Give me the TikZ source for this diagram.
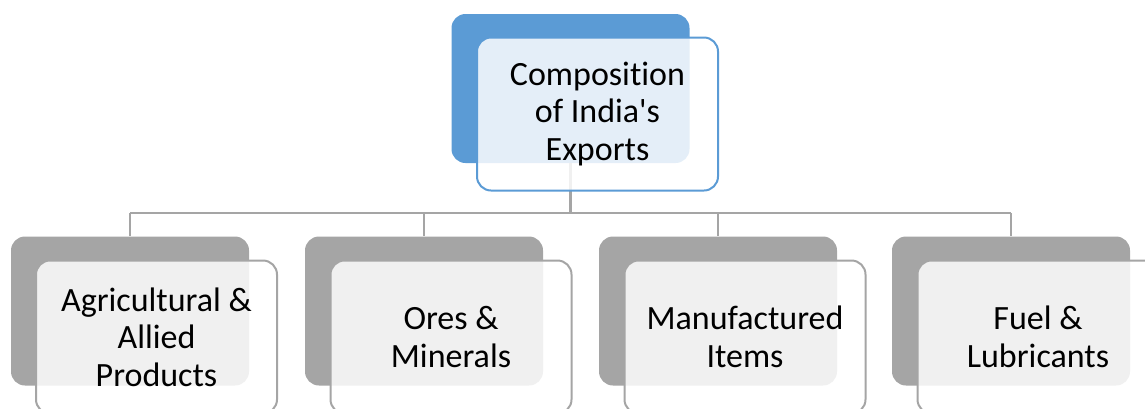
\documentclass[tikz,border=0pt]{standalone}
\usepackage{fontspec}
\setmainfont{Carlito}[Ligatures={NoCommon}]
\usetikzlibrary{positioning}
\definecolor{topblue}{HTML}{5B9BD5}
\definecolor{leafgray}{HTML}{A5A5A5}

\begin{document}
\begin{tikzpicture}[x=1pt,y=-1pt,
  backbox/.style={minimum width=238pt,minimum height=149pt,rounded corners=14pt,inner sep=0pt},
  frontbox/.style={minimum width=241pt,minimum height=153pt,rounded corners=14pt,inner sep=0pt,
    draw,line width=2pt,fill=white,fill opacity=0.84,text opacity=1,align=center,
    font=\fontsize{34}{37.5}\selectfont},
  conn/.style={draw=leafgray,line width=2.4pt}]
\useasboundingbox (0,0) rectangle (1145,408);
% back boxes
\node[backbox,fill=topblue] (topback) at (570.5,88.5) {};
\foreach \i/\x in {1/130,2/424,3/718,4/1011} {
  \node[backbox,fill=leafgray] (back\i) at (\x,311) {};
}
% connectors
\coordinate (bus) at (570.5,213);
\draw[conn] (topback.south) -- (bus);
\draw[conn] (back1.center |- bus) -- (back4.center |- bus);
\foreach \i in {1,2,3,4} {
  \draw[conn] (back\i.center |- bus) -- (back\i.north);
}
% front boxes
\node[frontbox,draw=topblue] (topfront) at (597.5,114) {Composition\\of India\textquotesingle s\\Exports};
\foreach \i/\x/\lbl in {1/156.5/{Agricultural \&\\Allied\\Products},2/451/{Ores \&\\Minerals},
  3/745/{Manufactured\\Items},4/1038/{Fuel \&\\Lubricants}} {
  \node[frontbox,draw=leafgray] (front\i) at (\x,337) {\lbl};
}
\end{tikzpicture}
\end{document}
